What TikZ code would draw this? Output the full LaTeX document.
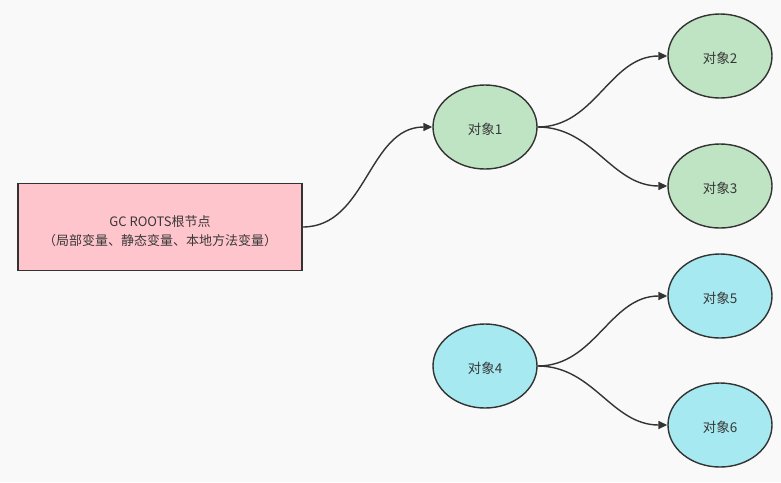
\documentclass[tikz,border=0pt]{standalone}
\usepackage{fontspec}
\setmainfont{Noto Sans CJK SC}
\usetikzlibrary{arrows.meta,shapes.geometric}
\definecolor{bgc}{HTML}{F9F9F9}
\definecolor{greenc}{HTML}{BFE4C3}
\definecolor{cyanc}{HTML}{A6E9F0}
\definecolor{pinkc}{HTML}{FFC5CC}
\definecolor{linec}{HTML}{333333}
\definecolor{textc}{HTML}{383838}
\tikzset{
  obj/.style={ellipse, draw=linec, line width=1.4pt, minimum width=104pt, minimum height=84pt, inner sep=0pt, text=textc, font=\fontsize{13.5pt}{15pt}\selectfont, text height=15pt, text depth=0pt},
  objg/.style={obj, fill=greenc},
  objc/.style={obj, fill=cyanc},
  rootbox/.style={rectangle, draw=linec, line width=1.4pt, fill=pinkc, minimum width=284pt, minimum height=87pt, inner sep=0pt},
  rootlabelstyle/.style={align=center, text=textc, font=\fontsize{13pt}{18.5pt}\selectfont, yshift=-4pt},
  conn/.style={draw=linec, line width=1.4pt, -{Triangle[length=9pt,width=8pt]}, out=0, in=180}
}
\begin{document}
\begin{tikzpicture}[x=1pt,y=-1pt]
\fill[bgc] (0,0) rectangle (781,482);
\useasboundingbox (0,0) rectangle (781,482);
\node[rootbox, label={[name=rootlabel, rootlabelstyle]center:GC ROOTS根节点\\（局部变量、静态变量、本地方法变量）}] (root) at (160,227) {};
\node[objg] (o1) at (485,127) {对象1};
\node[objg] (o2) at (720,56) {对象2};
\node[objg] (o3) at (720,186) {对象3};
\node[objc] (o4) at (485,366) {对象4};
\node[objc] (o5) at (720,296) {对象5};
\node[objc] (o6) at (720,425) {对象6};
\draw[conn] (root.east) to (o1.west);
\draw[conn] (o1.east) to (o2.west);
\draw[conn] (o1.east) to (o3.west);
\draw[conn] (o4.east) to (o5.west);
\draw[conn] (o4.east) to (o6.west);
\end{tikzpicture}
\end{document}
